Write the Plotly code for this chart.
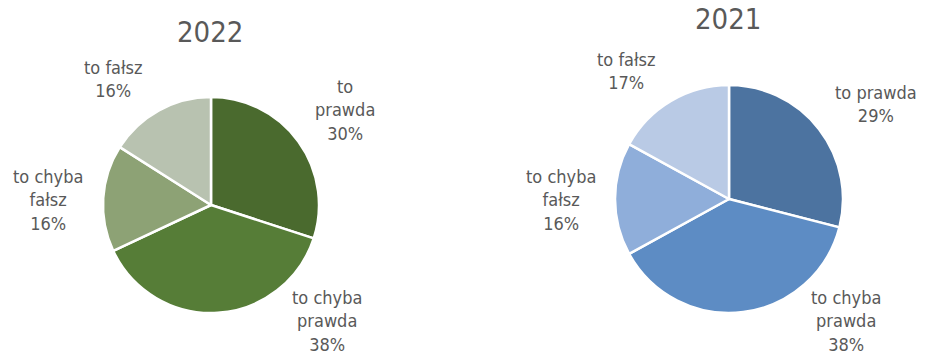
import plotly.graph_objects as go

W, H = 926, 356

categories_2022 = ["to<br>prawda", "to chyba<br>prawda", "to chyba<br>fałsz", "to fałsz"]
values_2022 = [30, 38, 16, 16]
colors_2022 = ["#4A6A2E", "#567D37", "#8DA275", "#B8C2B0"]

categories_2021 = ["to prawda", "to chyba<br>prawda", "to chyba<br>fałsz", "to fałsz"]
values_2021 = [29, 38, 16, 17]
colors_2021 = ["#4C73A0", "#5D8CC4", "#8FAEDA", "#B9CAE5"]

titles = ["2022", "2021"]

FONT = "DejaVu Sans Condensed, DejaVu Sans, sans-serif"
GRAY = "#595959"


def px(x, y):
    return x / W, 1 - y / H


def dom(cx, cy, r):
    x0, y1 = px(cx - r, cy - r)
    x1, y0 = px(cx + r, cy + r)
    return dict(x=[x0, x1], y=[y0, y1])


fig = go.Figure()
fig.add_trace(go.Pie(
    labels=categories_2022, values=values_2022, sort=False, direction="clockwise",
    rotation=0, textinfo="none", hoverinfo="label+percent",
    marker=dict(colors=colors_2022, line=dict(color="white", width=2.5)),
    domain=dom(211, 205, 108), showlegend=False,
))
fig.add_trace(go.Pie(
    labels=categories_2021, values=values_2021, sort=False, direction="clockwise",
    rotation=0, textinfo="none", hoverinfo="label+percent",
    marker=dict(colors=colors_2021, line=dict(color="white", width=2.5)),
    domain=dom(729, 199, 114), showlegend=False,
))

# label positions (page pixels)
pos_2022 = [(345, 110), (327, 321), (48, 200), (113, 79)]
pos_2021 = [(876, 104), (846, 321), (561, 200), (626, 71)]

annotations = []
for cats, vals, pos in [(categories_2022, values_2022, pos_2022), (categories_2021, values_2021, pos_2021)]:
    for c, v, (x, y) in zip(cats, vals, pos):
        ax, ay = px(x, y)
        annotations.append(dict(
            x=ax, y=ay, xref="paper", yref="paper",
            text=f"{c}<br>{v}%", showarrow=False, align="center",
            xanchor="center", yanchor="middle", borderpad=0,
            font=dict(family=FONT, size=18, color=GRAY),
        ))

for t, (x, y) in zip(titles, [(210, 32), (728, 19)]):
    ax, ay = px(x, y)
    annotations.append(dict(
        x=ax, y=ay, xref="paper", yref="paper", text=t, showarrow=False,
        xanchor="center", yanchor="middle", borderpad=0,
        font=dict(family=FONT, size=29, color=GRAY),
    ))

fig.update_layout(
    width=W, height=H, margin=dict(l=0, r=0, t=0, b=0),
    paper_bgcolor="white", plot_bgcolor="white",
    annotations=annotations,
)

fig.write_html(
    "out.html",
    config={"displayModeBar": False},
    post_script="document.body.style.margin='0px';",
)
